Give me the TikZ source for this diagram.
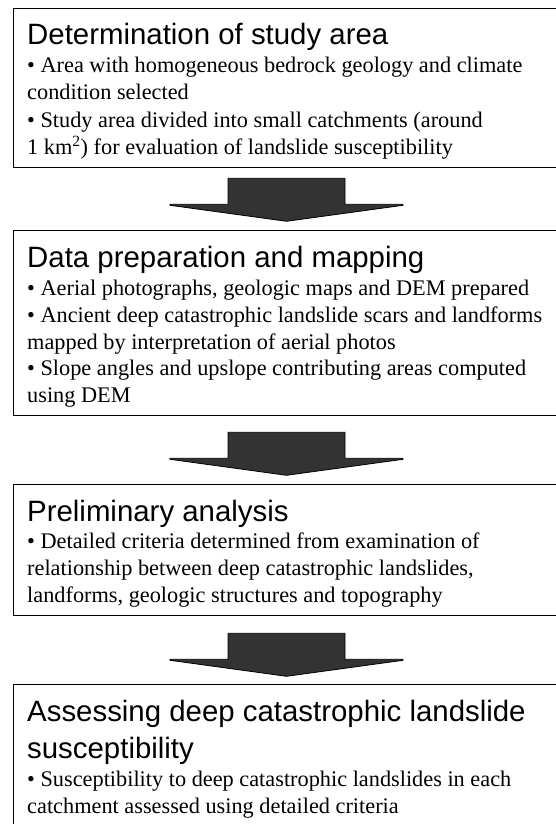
\documentclass[tikz,border=0pt]{standalone}
\usepackage{fontspec}
\setmainfont{Liberation Serif}
\newfontfamily\headfont{Liberation Sans}
\usetikzlibrary{calc}

\tikzset{
  stagebox/.style={draw=black, line width=1.3pt, fill=white},
  headline/.style={anchor=base west, inner sep=0pt,
    font=\headfont\fontsize{29.4}{35}\selectfont},
  bodyline/.style={anchor=base west, inner sep=0pt,
    font=\fontsize{22.3}{27}\selectfont},
  blockarrow/.style={draw=black, line width=0.8pt, fill=black!80, line join=miter}
}

% one downward block arrow hanging from a named coordinate (top centre of its shaft)
\newcommand{\flowarrow}[1]{%
  \draw[blockarrow]
    ($(#1)+(-58.5,0)$) -- ($(#1)+(58.5,0)$) -- ($(#1)+(58.5,26)$) --
    ($(#1)+(116.5,26)$) -- ($(#1)+(116.5,27)$) -- ($(#1)+(0,43)$) --
    ($(#1)+(-116.5,27)$) -- ($(#1)+(-116.5,26)$) -- ($(#1)+(-58.5,26)$) -- cycle;}

\begin{document}
\begin{tikzpicture}[x=1pt, y=-1pt]
\useasboundingbox (0,0) rectangle (556,824);
\clip (0,0) rectangle (556,824);

% stage frames (open to the right and, for the last one, at the bottom)
\node[stagebox, anchor=north west, minimum width=560pt, minimum height=159pt] (b1) at (12.7,8) {};
\node[stagebox, anchor=north west, minimum width=560pt, minimum height=185pt] (b2) at (12.7,230) {};
\node[stagebox, anchor=north west, minimum width=560pt, minimum height=131pt] (b3) at (12.7,484) {};
\node[stagebox, anchor=north west, minimum width=560pt, minimum height=160pt] (b4) at (12.7,684) {};

% stage 1
\node[headline] (h1) at (27,45) {Determination of study area};
\node[bodyline] (t11) at (27,73) {• Area with homogeneous bedrock geology and climate};
\node[bodyline] (t12) at (27,100) {condition selected};
\node[bodyline] (t13) at (27,128) {• Study area divided into small catchments (around};
\node[bodyline] (t14) at (27,154) {1 km\textsuperscript{2}) for evaluation of landslide susceptibility};

% stage 2
\node[headline] (h2) at (27,267) {Data preparation and mapping};
\node[bodyline] (t21) at (27,295) {• Aerial photographs, geologic maps and DEM prepared};
\node[bodyline] (t22) at (27,322) {• Ancient deep catastrophic landslide scars and landforms};
\node[bodyline] (t23) at (27,349) {mapped by interpretation of aerial photos};
\node[bodyline] (t24) at (27,375) {• Slope angles and upslope contributing areas computed};
\node[bodyline] (t25) at (27,402) {using DEM};

% stage 3
\node[headline] (h3) at (27,521) {Preliminary analysis};
\node[bodyline] (t31) at (27,548) {• Detailed criteria determined from examination of};
\node[bodyline] (t32) at (27,575) {relationship between deep catastrophic landslides,};
\node[bodyline] (t33) at (27,602) {landforms, geologic structures and topography};

% stage 4
\node[headline] (h4a) at (27,721) {Assessing deep catastrophic landslide};
\node[headline] (h4b) at (27,758) {susceptibility};
\node[bodyline] (t41) at (27,786) {• Susceptibility to deep catastrophic landslides in each};
\node[bodyline] (t42) at (27,813) {catchment assessed using detailed criteria};

% arrows between the stages
\coordinate (a1) at ($(b1.south west)+(273.8,10)$);
\coordinate (a2) at ($(b2.south west)+(273.8,16)$);
\coordinate (a3) at ($(b3.south west)+(273.8,17)$);
\flowarrow{a1}
\flowarrow{a2}
\flowarrow{a3}
\end{tikzpicture}
\end{document}
